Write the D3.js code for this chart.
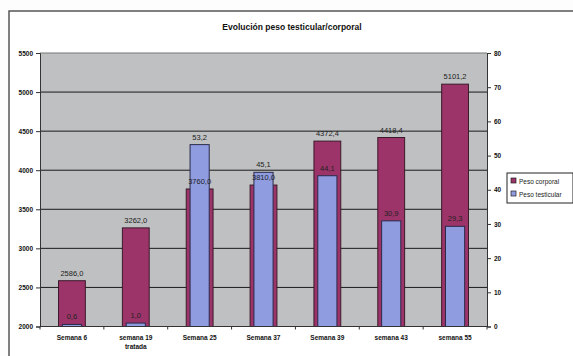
<!DOCTYPE html>
<html><head><meta charset="utf-8">
<script src="https://cdn.jsdelivr.net/npm/d3@7"></script>
<style>
html,body{margin:0;padding:0;background:#fff;}
svg{display:block;font-family:Arial,"Liberation Sans",sans-serif;}
</style></head>
<body><svg id="chart" width="573" height="356"></svg>
<script>
const title = "Evolución peso testicular/corporal";
const categories = [["Semana 6"], ["semana 19", "tratada"], ["Semana 25"], ["Semana 37"], ["Semana 39"], ["semana 43"], ["semana 55"]];
const pesoCorporal = [2586.0, 3262.0, 3760.0, 3810.0, 4372.4, 4418.4, 5101.2];
const pesoTesticular = [0.6, 1.0, 53.2, 45.1, 44.1, 30.9, 29.3];
const leftTicks = [2000, 2500, 3000, 3500, 4000, 4500, 5000, 5500];
const rightTicks = [0, 10, 20, 30, 40, 50, 60, 70, 80];
const seriesNames = ["Peso corporal", "Peso testicular"];
const colors = ["#9c3469", "#8f9ce0"];

const svg = d3.select("#chart");
const L = 40, R = 487, T = 53, B = 326.5;

// outer frame
svg.append("rect").attr("x", 0).attr("y", 0).attr("width", 573).attr("height", 356).attr("fill", "#fdfdfd");
svg.append("rect").attr("x", 9).attr("y", 11).attr("width", 620).attr("height", 400)
  .attr("fill", "#fff").attr("stroke", "#555").attr("stroke-width", 1.5);

svg.append("text").attr("x", 292).attr("y", 30).attr("text-anchor", "middle")
  .attr("font-size", 8.5).attr("font-weight", "bold").attr("fill", "#111").text(title);

const x = d3.scaleBand().domain(d3.range(categories.length)).range([L, R]);
const yL = d3.scaleLinear().domain([2000, 5500]).range([B, T]);
const yR = d3.scaleLinear().domain([0, 80]).range([B, T]);

svg.append("rect").attr("x", L).attr("y", T).attr("width", R - L).attr("height", B - T).attr("fill", "#bfc0c1");

// gridlines
svg.append("g").selectAll("line").data(leftTicks.slice(1)).join("line")
  .attr("x1", L).attr("x2", R).attr("y1", d => yL(d)).attr("y2", d => yL(d))
  .attr("stroke", (d, i) => i === leftTicks.length - 2 ? "#777" : "#1a1a1a").attr("stroke-width", 1);

const wP = x.bandwidth() * 0.42, wB = x.bandwidth() * 0.3;
const fmt = v => d3.format(".1f")(v).replace(".", ",");

svg.append("g").selectAll("rect").data(pesoCorporal).join("rect")
  .attr("x", (d, i) => x(i) + x.bandwidth() / 2 - wP / 2).attr("width", wP)
  .attr("y", d => yL(d)).attr("height", d => B - yL(d))
  .attr("fill", colors[0]).attr("stroke", "#3a1a2a").attr("stroke-width", 1);

svg.append("g").selectAll("rect").data(pesoTesticular).join("rect")
  .attr("x", (d, i) => x(i) + x.bandwidth() / 2 - wB / 2).attr("width", wB)
  .attr("y", d => yR(d)).attr("height", d => B - yR(d))
  .attr("fill", colors[1]).attr("stroke", "#2a2a4a").attr("stroke-width", 1);

svg.append("g").selectAll("text").data(pesoCorporal).join("text")
  .attr("x", (d, i) => x(i) + x.bandwidth() / 2).attr("y", d => yL(d) - 5)
  .attr("text-anchor", "middle").attr("font-size", 7.5).attr("fill", "#222").text(fmt);
svg.append("g").selectAll("text").data(pesoTesticular).join("text")
  .attr("x", (d, i) => x(i) + x.bandwidth() / 2).attr("y", d => yR(d) - 5)
  .attr("text-anchor", "middle").attr("font-size", 7.5).attr("fill", "#222").text(fmt);

// left axis
const gl = svg.append("g").attr("transform", `translate(${L},0)`)
  .call(d3.axisLeft(yL).tickValues(leftTicks).tickSize(4).tickPadding(3).tickFormat(d3.format("d")));
gl.select(".domain").attr("stroke", "#333");
gl.selectAll("line").attr("stroke", "#333");
gl.selectAll("text").attr("font-size", 6.5).attr("font-weight", "bold").attr("fill", "#111").attr("font-family", "Arial");

// right axis
const gr = svg.append("g").attr("transform", `translate(${R},0)`)
  .call(d3.axisRight(yR).tickValues(rightTicks).tickSize(4).tickPadding(3));
gr.select(".domain").attr("stroke", "#333");
gr.selectAll("line").attr("stroke", "#333");
gr.selectAll("text").attr("font-size", 6.5).attr("font-weight", "bold").attr("fill", "#111").attr("font-family", "Arial");

// bottom axis
svg.append("line").attr("x1", L).attr("x2", R).attr("y1", B).attr("y2", B).attr("stroke", "#333");
svg.append("g").selectAll("line").data(d3.range(categories.length + 1)).join("line")
  .attr("x1", i => L + i * x.step()).attr("x2", i => L + i * x.step())
  .attr("y1", B).attr("y2", B + 3).attr("stroke", "#333");
const xl = svg.append("g").selectAll("text").data(categories).join("text")
  .attr("x", (d, i) => x(i) + x.bandwidth() / 2).attr("y", B + 13)
  .attr("text-anchor", "middle").attr("font-size", 6.5).attr("font-weight", "bold").attr("fill", "#111");
xl.selectAll("tspan").data(d => d).join("tspan")
  .attr("x", function () { return d3.select(this.parentNode).attr("x"); })
  .attr("dy", (d, i) => i === 0 ? 0 : 9).text(d => d);

// legend
const lg = svg.append("g").attr("transform", "translate(507,173)");
lg.append("rect").attr("width", 66).attr("height", 30).attr("fill", "#fff").attr("stroke", "#222");
seriesNames.forEach((n, i) => {
  lg.append("rect").attr("x", 4).attr("y", 5 + i * 13).attr("width", 5).attr("height", 5)
    .attr("fill", colors[i]).attr("stroke", "#222").attr("stroke-width", 0.7);
  lg.append("text").attr("x", 12).attr("y", 10.5 + i * 13).attr("font-size", 6.5).attr("fill", "#222").text(n);
});
</script></body></html>
